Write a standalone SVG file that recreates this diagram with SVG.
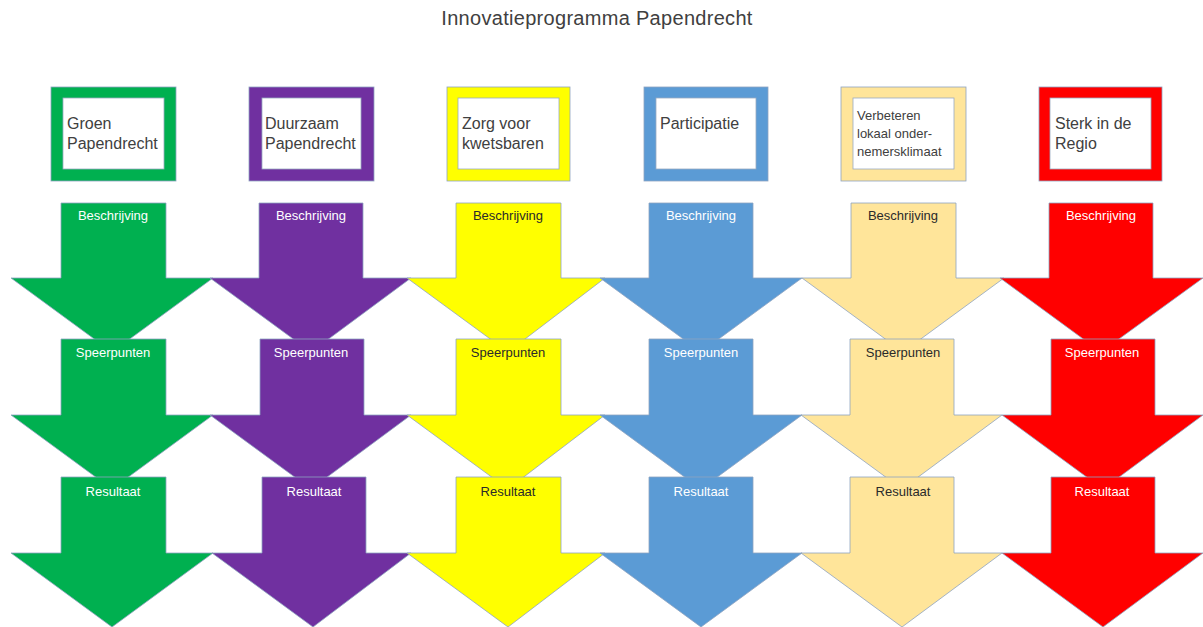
<svg xmlns="http://www.w3.org/2000/svg" width="1203" height="627" viewBox="0 0 1203 627">
<defs>
<style>
.t{font-family:"Liberation Sans",Arial,sans-serif;fill:#404040}
.title{font-size:20px;letter-spacing:0.3px}
.bx{font-size:16px}
.bs{font-size:13px}
.al{font-family:"Liberation Sans",Arial,sans-serif;font-size:13px;text-anchor:middle}
.w{fill:#ffffff}
.d{fill:#2a2a2a}
.o{stroke:#8ea3c0;stroke-width:0.8}
.inner{fill:#ffffff;stroke:#9aaac0;stroke-width:0.8}
.g{fill:#00B050}.p{fill:#7030A0}.y{fill:#FFFF00}.b{fill:#5B9BD5}.k{fill:#FFE59A}.r{fill:#FF0000}
</style>
</defs>
<rect width="1203" height="627" fill="#ffffff"/>
<text class="t title" x="597" y="25" text-anchor="middle">Innovatieprogramma Papendrecht</text>

<g id="box-groen"><rect class="g o" x="51" y="87" width="125" height="94"/><rect class="inner" x="63" y="98" width="101" height="71"/><text class="t bx" x="67" y="129">Groen</text><text class="t bx" x="67" y="149">Papendrecht</text></g>
<g id="box-duurzaam"><rect class="p o" x="249" y="87" width="125" height="94"/><rect class="inner" x="262" y="98" width="99" height="71"/><text class="t bx" x="265" y="129">Duurzaam</text><text class="t bx" x="265" y="149">Papendrecht</text></g>
<g id="box-zorg"><rect class="y o" x="447" y="87" width="123" height="94"/><rect class="inner" x="458" y="98" width="101" height="71"/><text class="t bx" x="462" y="129">Zorg voor</text><text class="t bx" x="462" y="149">kwetsbaren</text></g>
<g id="box-participatie"><rect class="b o" x="644" y="87" width="124" height="94"/><rect class="inner" x="656" y="98" width="100" height="71"/><text class="t bx" x="660" y="129">Participatie</text></g>
<g id="box-verbeteren"><rect class="k o" x="841" y="87" width="125" height="94"/><rect class="inner" x="853" y="98" width="101" height="71"/><text class="t bs" x="857" y="120">Verbeteren</text><text class="t bs" x="857" y="138">lokaal onder-</text><text class="t bs" x="857" y="156">nemersklimaat</text></g>
<g id="box-sterk"><rect class="r o" x="1039" y="87" width="123" height="94"/><rect class="inner" x="1050" y="98" width="101" height="71"/><text class="t bx" x="1055" y="129">Sterk in de</text><text class="t bx" x="1055" y="149">Regio</text></g>

<g id="connectors">
<g id="arrow-groen-1"><path class="g o" d="M61,203H166V278H213L112,352L11,278H61Z"/><text class="al w" x="113" y="220">Beschrijving</text></g>
<g id="arrow-duurzaam-1"><path class="p o" d="M259,203H363V278H411L311,352L210,278H259Z"/><text class="al w" x="311" y="220">Beschrijving</text></g>
<g id="arrow-zorg-1"><path class="y o" d="M456,203H561V278H605L508,352L407,278H456Z"/><text class="al d" x="508" y="220">Beschrijving</text></g>
<g id="arrow-participatie-1"><path class="b o" d="M649,203H753V278H802L701,352L600,278H649Z"/><text class="al w" x="701" y="220">Beschrijving</text></g>
<g id="arrow-verbeteren-1"><path class="k o" d="M851,203H956V278H1004L903,352L802,278H851Z"/><text class="al d" x="903" y="220">Beschrijving</text></g>
<g id="arrow-sterk-1"><path class="r o" d="M1049,203H1153V278H1203L1101,352L1000,278H1049Z"/><text class="al w" x="1101" y="220">Beschrijving</text></g>
<g id="arrow-groen-2"><path class="g o" d="M61,339H166V415H213L112,489L11,415H61Z"/><text class="al w" x="113" y="357">Speerpunten</text></g>
<g id="arrow-duurzaam-2"><path class="p o" d="M260,339H364V415H411L311,489L210,415H260Z"/><text class="al w" x="311" y="357">Speerpunten</text></g>
<g id="arrow-zorg-2"><path class="y o" d="M456,339H561V415H605L508,489L407,415H456Z"/><text class="al d" x="508" y="357">Speerpunten</text></g>
<g id="arrow-participatie-2"><path class="b o" d="M649,339H753V415H802L701,489L600,415H649Z"/><text class="al w" x="701" y="357">Speerpunten</text></g>
<g id="arrow-verbeteren-2"><path class="k o" d="M850,339H954V415H1002L902,489L801,415H850Z"/><text class="al d" x="903" y="357">Speerpunten</text></g>
<g id="arrow-sterk-2"><path class="r o" d="M1051,339H1155V415H1203L1103,489L1002,415H1051Z"/><text class="al w" x="1102" y="357">Speerpunten</text></g>
<g id="arrow-groen-3"><path class="g o" d="M61,477H166V553H213L112,627L11,553H61Z"/><text class="al w" x="113" y="496">Resultaat</text></g>
<g id="arrow-duurzaam-3"><path class="p o" d="M262,477H366V553H411L313,627L212,553H262Z"/><text class="al w" x="314" y="496">Resultaat</text></g>
<g id="arrow-zorg-3"><path class="y o" d="M456,477H561V553H605L508,627L407,553H456Z"/><text class="al d" x="508" y="496">Resultaat</text></g>
<g id="arrow-participatie-3"><path class="b o" d="M649,477H753V553H802L701,627L600,553H649Z"/><text class="al w" x="701" y="496">Resultaat</text></g>
<g id="arrow-verbeteren-3"><path class="k o" d="M850,477H954V553H1002L902,627L801,553H850Z"/><text class="al d" x="903" y="496">Resultaat</text></g>
<g id="arrow-sterk-3"><path class="r o" d="M1051,477H1155V553H1203L1103,627L1002,553H1051Z"/><text class="al w" x="1102" y="496">Resultaat</text></g>
</g>
</svg>
